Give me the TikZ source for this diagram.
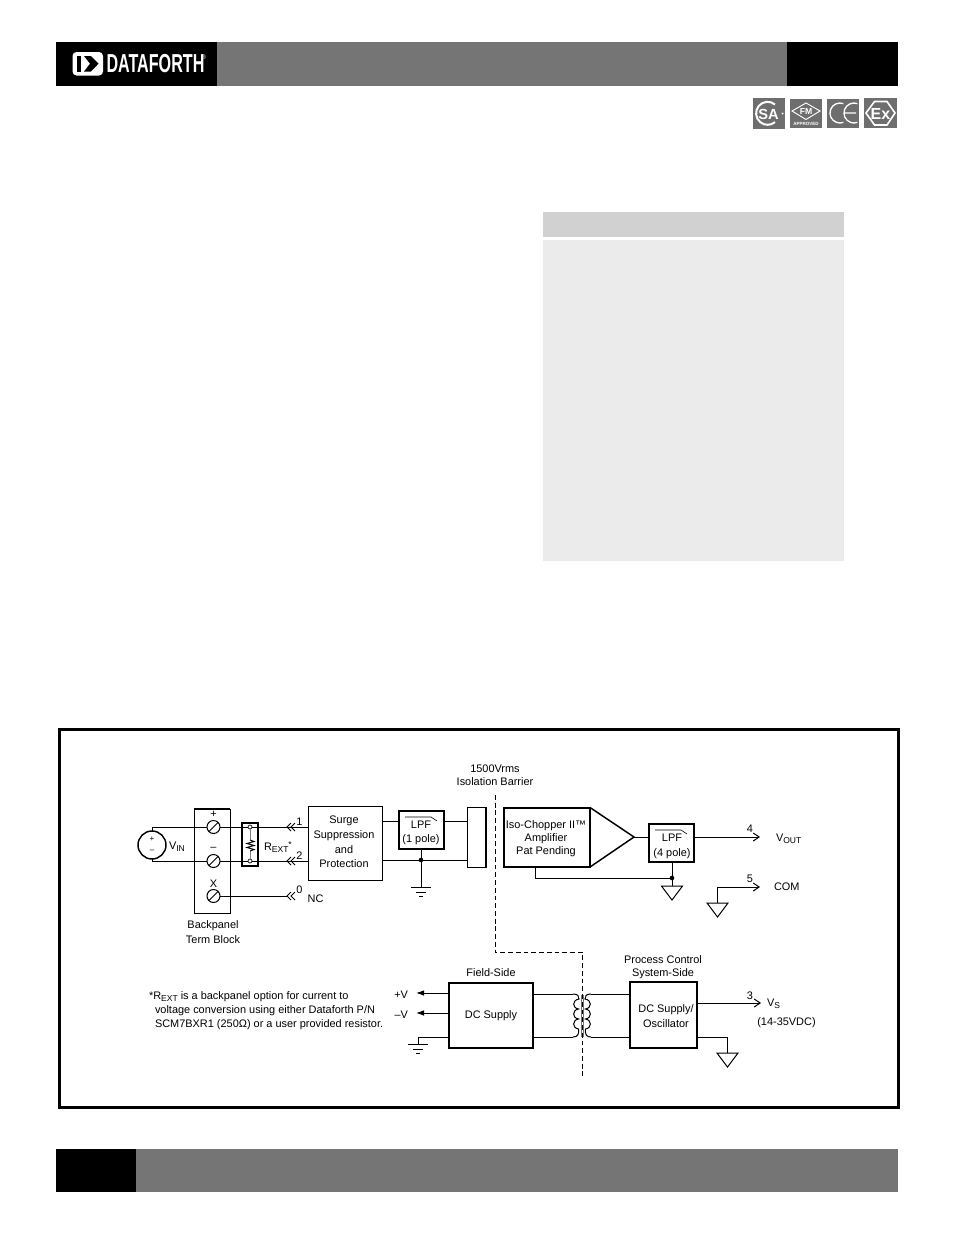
\documentclass[tikz,border=0pt]{standalone}
\usepackage{fontspec}
\setmainfont{Liberation Sans}
\usetikzlibrary{arrows.meta}
\definecolor{band}{HTML}{757575}
\definecolor{logog}{HTML}{6E6E6E}
\tikzset{
 wire/.style={line width=0.75pt,line cap=butt,line join=miter},
 thin box/.style={draw,line width=0.75pt,inner sep=0pt,outer sep=0pt,fill=white},
 thick box/.style={draw,line width=1.5pt,inner sep=0pt,outer sep=0pt,fill=white},
 solid block/.style={fill=#1,inner sep=0pt,outer sep=0pt},
 screw/.style={draw,circle,line width=0.75pt,inner sep=0pt,outer sep=0pt,fill=white},
 txt/.style={inner sep=0pt,outer sep=0pt,yshift=-0.6pt,font=\fontsize{8.2pt}{9pt}\selectfont},
 logotxt/.style={inner sep=0pt,outer sep=0pt,text=white},
 openhead/.style={-{Straight Barb[length=4.4pt,width=6pt,line width=0.75pt]}},
 solidhead/.style={-{Latex[length=6pt,width=4.2pt]}},
}
\newcommand{\bx}[6]{\node[#6,minimum width={(#4-#2)*0.75pt},minimum height={(#5-#3)*0.75pt}] (#1) at ({(#2+#4)/2},{(#3+#5)/2}) {};}
\newcommand{\chev}[2]{\draw[wire] (#1+4,#2-4) -- (#1,#2) -- (#1+4,#2+4) (#1+8,#2-4) -- (#1+4,#2) -- (#1+8,#2+4);}
\newcommand{\triground}[2]{\draw[wire,fill=white] (#1-10.5,#2) -- (#1+10.5,#2) -- (#1,#2+14) -- cycle;}
\newcommand{\barground}[2]{\draw[wire] (#1-10,#2) -- (#1+10,#2) (#1-5,#2+5) -- (#1+5,#2+5) (#1-2,#2+9) -- (#1+2,#2+9);}
\newcommand{\subs}[1]{\raisebox{-1.6pt}{\fontsize{6.4pt}{7pt}\selectfont #1}}
\begin{document}
\begin{tikzpicture}[x=0.75pt,y=-0.75pt]
\useasboundingbox (0,0) rectangle (954,1235);
% header / footer bands
\bx{bandA}{217}{42}{787}{86}{solid block=band}
\bx{logoblk}{56}{42}{217}{86}{solid block=black}
\bx{bandB}{787}{42}{898}{86}{solid block=black}
\bx{footA}{136}{1149}{898}{1192}{solid block=band}
\bx{footB}{56}{1149}{136}{1192}{solid block=black}
% brand logo
\fill[white,rounded corners=3pt] (72.5,52) rectangle (103,75.5);
\fill[black] (77,56) -- (81,56) -- (81,71.5) -- (77,71.5) -- cycle;
\fill[black] (84,56) -- (91,56) -- (98.5,63.7) -- (91,71.5) -- (84,71.5) -- (90,63.7) -- cycle;
\node[logotxt,font=\bfseries\fontsize{19.5pt}{20pt}\selectfont,xscale=0.62,anchor=west] (brand) at (106.5,63.5) {DATAFORTH};
\node[logotxt,font=\fontsize{5pt}{5pt}\selectfont] (brandr) at (203.5,57) {®};
% approval marks
\bx{mkA}{753}{98}{785}{129}{solid block=logog}
\bx{mkB}{790}{99}{822}{128}{solid block=logog}
\bx{mkC}{827}{99}{859}{128}{solid block=logog}
\bx{mkD}{864}{98}{897}{128}{solid block=logog}
\draw[white,line width=1.5pt] (775,104.5) arc[start angle=-50,end angle=-310,radius=11.5];
\node[logotxt,font=\bfseries\fontsize{11pt}{11pt}\selectfont] (csa) at (768.5,114) {SA};
\fill[white] (782.5,113.5) circle (1);
\draw[white,line width=0.7pt] (792,111) -- (806,103) -- (820,111) -- (806,119.5) -- cycle;
\node[logotxt,font=\bfseries\fontsize{6.5pt}{7pt}\selectfont] (fm) at (806,111.3) {FM};
\node[logotxt,font=\bfseries\fontsize{3.4pt}{4pt}\selectfont] (fmb) at (806,123.5) {APPROVED};
\draw[white,line width=1pt] (843.4,103.6) arc[start angle=-70,end angle=-290,radius=10];
\draw[white,line width=1pt] (857.4,103.6) arc[start angle=-70,end angle=-290,radius=10] (844,113) -- (856,113);
\draw[white,line width=1.2pt] (874.5,101.5) -- (887,101.5) -- (895,113) -- (887,125) -- (874.5,125) -- (866,113) -- cycle;
\node[logotxt,font=\bfseries\fontsize{12pt}{12pt}\selectfont] (ex) at (880.5,113.5) {Ex};
% specification panel
\bx{panelH}{543}{212}{844}{237}{solid block={black!18}}
\bx{panelB}{543}{240}{844}{561}{solid block={black!8}}
% diagram frame
\bx{frame}{59.5}{729}{898.5}{1107.5}{draw,line width=2.25pt,inner sep=0pt,outer sep=0pt}
% blocks
\bx{term}{194}{809}{230}{913}{thin box}
\draw[line width=1.5pt] (term.north west) -- (term.north east);
\bx{rbox}{242}{823}{258}{866}{thin box,line width=1.1pt}
\bx{surge}{308}{806}{382}{880}{thin box}
\bx{lpfA}{399}{811}{444}{849}{thick box}
\bx{barrier}{467.5}{807}{486}{867}{thin box}
\draw[line width=1.5pt] (barrier.north east) -- (barrier.south east);
\bx{amp}{503.5}{807.5}{590}{867}{thick box}
\bx{lpfB}{649}{824}{694}{862}{thin box,line width=1.1pt}
\bx{dcA}{449}{983}{533}{1048}{thin box,line width=1.3pt}
\bx{dcB}{630}{982}{697}{1048}{thin box,line width=1.1pt}
\bx{src}{138}{831}{166}{859}{screw,line width=1.1pt}
\bx{scA}{207}{820.5}{220}{833.5}{screw}
\bx{scB}{207}{854.5}{220}{867.5}{screw}
\bx{scC}{207}{889.5}{220}{902.5}{screw}
\bx{jA}{248}{825}{252}{829}{screw,line width=0.5pt}
\bx{jB}{248}{859}{252}{863}{screw,line width=0.5pt}
% screw slots
\draw[wire] (scA.south west) -- (scA.north east) (scB.south west) -- (scB.north east) (scC.south west) -- (scC.north east);
% input wiring
\coordinate (srcT) at (152,827);
\coordinate (srcB) at (152,861);
\draw[wire] (src.north) -- (srcT) -- (scA.west) (src.south) -- (srcB) -- (scB.west);
\draw[wire] (scA.east) -- (jA.west) (jA.east) -- (surge.west |- scA);
\draw[wire] (scB.east) -- (jB.west) (jB.east) -- (surge.west |- scB);
\coordinate (ncEnd) at (287,896);
\draw[wire] (scC.east) -- (ncEnd);
\chev{287}{827}\chev{287}{861}\chev{287}{896}
% external resistor
\draw[line width=0.75pt,black!50] (jA.south) -- (250,840);
\draw[line width=0.75pt,black!50] (250,851) -- (jB.north);
\draw[line width=0.75pt] (250,840) -- (254,841.5) -- (247,843.5) -- (254,845.5) -- (247,847.5) -- (254,849.5) -- (250,851);
% filter A wiring
\coordinate (upY) at (382,821);
\coordinate (loY) at (382,860);
\draw[wire] (upY) -- (lpfA.west |- upY) (lpfA.east |- upY) -- (barrier.west |- upY);
\draw[wire] (loY) -- (barrier.west |- loY);
\coordinate (dotA) at (421,860);
\coordinate (gndA) at (421,887);
\draw[wire] (lpfA.south -| dotA) -- (gndA);
\fill (dotA) circle (2.3);
\barground{421}{887}
% barrier
\coordinate (isoA) at (495,795);
\coordinate (isoB) at (495,952);
\coordinate (isoC) at (582,952);
\coordinate (isoD) at (582,1077);
\draw[line width=0.65pt,dash pattern=on 3.6pt off 2.2pt] (isoA) -- (isoB) -- (isoC) -- (isoD);
% amplifier
\coordinate (tri) at (634,837);
\draw[line width=1.1pt,line join=miter] (amp.north east) -- (tri) -- (amp.south east);
\draw[wire] (tri) -- (lpfB.west |- tri);
\coordinate (voutE) at (760,837);
\draw[wire,openhead] (lpfB.east |- voutE) -- (voutE);
\coordinate (busL) at (535,867);
\coordinate (busM) at (535,878);
\coordinate (dotB) at (672,878);
\coordinate (gndB) at (672,886);
\draw[wire] (busL) -- (busM) -- (dotB);
\draw[wire] (lpfB.south -| dotB) -- (gndB);
\triground{672}{886}
\fill (dotB) circle (2.3);
\coordinate (comE) at (760,887);
\coordinate (comC) at (717,887);
\coordinate (comG) at (717,903);
\draw[wire,openhead] (comG) -- (comC) -- (comE);
\triground{717.5}{903}
% field supply
\coordinate (pvE) at (416,993);
\coordinate (mvE) at (416,1013);
\draw[wire,solidhead] (dcA.west |- pvE) -- (pvE);
\draw[wire,solidhead] (dcA.west |- mvE) -- (mvE);
\coordinate (gfA) at (449,1037);
\coordinate (gfB) at (418,1037);
\coordinate (gfC) at (418,1044);
\draw[wire] (gfA) -- (gfB) -- (gfC);
\barground{418}{1044}
% transformer
\coordinate (tlT) at (573,994);
\coordinate (tlB) at (573,1037);
\coordinate (trT) at (591,994);
\coordinate (trB) at (591,1037);
\draw[wire] (dcA.east |- tlT) -- (tlT) (dcA.east |- tlB) -- (tlB);
\draw[wire] (dcB.west |- trT) -- (trT) (dcB.west |- trB) -- (trB);
\draw[wire] (tlT) .. controls (578,994) and (579,996) .. (579,999)
 .. controls (572,1000) and (572,1008) .. (578.5,1009)
 .. controls (572,1010) and (572,1018) .. (578.5,1019)
 .. controls (572,1020) and (572,1028) .. (578.5,1029)
 .. controls (579,1034) and (578,1037) .. (tlB);
\draw[wire] (trT) .. controls (586,994) and (585,996) .. (585,999)
 .. controls (592,1000) and (592,1008) .. (585.5,1009)
 .. controls (592,1010) and (592,1018) .. (585.5,1019)
 .. controls (592,1020) and (592,1028) .. (585.5,1029)
 .. controls (585,1034) and (586,1037) .. (trB);
\fill[black!55] (580.5,995) rectangle (581.7,1037);
\fill[black!55] (583,995) rectangle (584.2,1037);
% system supply
\coordinate (vsE) at (761,1003);
\draw[wire,openhead] (dcB.east |- vsE) -- (vsE);
\coordinate (gsA) at (697,1037);
\coordinate (gsB) at (727,1037);
\coordinate (gsC) at (727,1053);
\draw[wire] (gsA) -- (gsB) -- (gsC);
\triground{727.5}{1053}
% filter glyphs
\draw[line width=0.5pt] (405,817) -- (431,817) -- (437,821);
\draw[line width=0.5pt] (655,830) -- (681,830) -- (687,834);
% text
\node[txt] (t1) at (495,768) {1500Vrms};
\node[txt] (t2) at (495,780.5) {Isolation Barrier};
\node[txt] (s1) at (344,820.5) {Surge};
\node[txt] (s2) at (344,834.5) {Suppression};
\node[txt] (s3) at (344,848.5) {and};
\node[txt] (s4) at (344,862.5) {Protection};
\node[txt] (l1) at (421,823.5) {LPF};
\node[txt] (l2) at (421,838.5) {(1 pole)};
\node[txt] (l3) at (672,837) {LPF};
\node[txt] (l4) at (672,853) {(4 pole)};
\node[txt] (a1) at (546,825) {Iso-Chopper II™};
\node[txt] (a2) at (546,837.5) {Amplifier};
\node[txt] (a3) at (546,850.5) {Pat Pending};
\node[txt,anchor=west] (vin) at (169,846) {V\subs{IN}};
\node[txt,anchor=west] (rext) at (264,846) {R\subs{EXT}\raisebox{2pt}{\fontsize{6.4pt}{7pt}\selectfont *}};
\node[txt] (n1) at (299.5,820.5) {1};
\node[txt] (n2) at (299.5,854.5) {2};
\node[txt] (n0) at (299.5,888.5) {0};
\node[txt] (nc) at (315.5,897.5) {NC};
\node[txt] (pl) at (213.5,814) {+};
\node[txt] (mi) at (213.5,848.5) {–};
\node[txt] (xx) at (213.5,883) {X};
\node[txt] (sp) at (152,838.5) {\fontsize{6pt}{6pt}\selectfont +};
\node[txt] (sm) at (152,851) {\fontsize{6pt}{6pt}\selectfont –};
\node[txt] (b1) at (213,925) {Backpanel};
\node[txt] (b2) at (213,939) {Term Block};
\node[txt] (n4) at (750,828) {4};
\node[txt,anchor=west] (vo) at (776,838) {V\subs{OUT}};
\node[txt] (n5) at (750,878) {5};
\node[txt,anchor=west] (co) at (774,886) {COM};
\node[txt] (n3) at (750,994.5) {3};
\node[txt,anchor=west] (vs) at (767,1003) {V\subs{S}};
\node[txt] (vr) at (786.5,1022) {(14-35VDC)};
\node[txt] (f1) at (491,972) {Field-Side};
\node[txt] (f2) at (491,1014.5) {DC Supply};
\node[txt] (p1) at (663,958.5) {Process Control};
\node[txt] (p2) at (663,972.5) {System-Side};
\node[txt] (p3) at (666,1008.5) {DC Supply/};
\node[txt] (p4) at (666,1022.5) {Oscillator};
\node[txt,anchor=east] (pv) at (408,994) {+V};
\node[txt,anchor=east] (mv) at (408,1014) {–V};
\node[txt,anchor=west] (m1) at (149,995.5) {*R\subs{EXT} is a backpanel option for current to};
\node[txt,anchor=west] (m2) at (155,1009.5) {voltage conversion using either Dataforth P/N};
\node[txt,anchor=west] (m3) at (155,1023.5) {SCM7BXR1 (250Ω) or a user provided resistor.};
\end{tikzpicture}
\end{document}
